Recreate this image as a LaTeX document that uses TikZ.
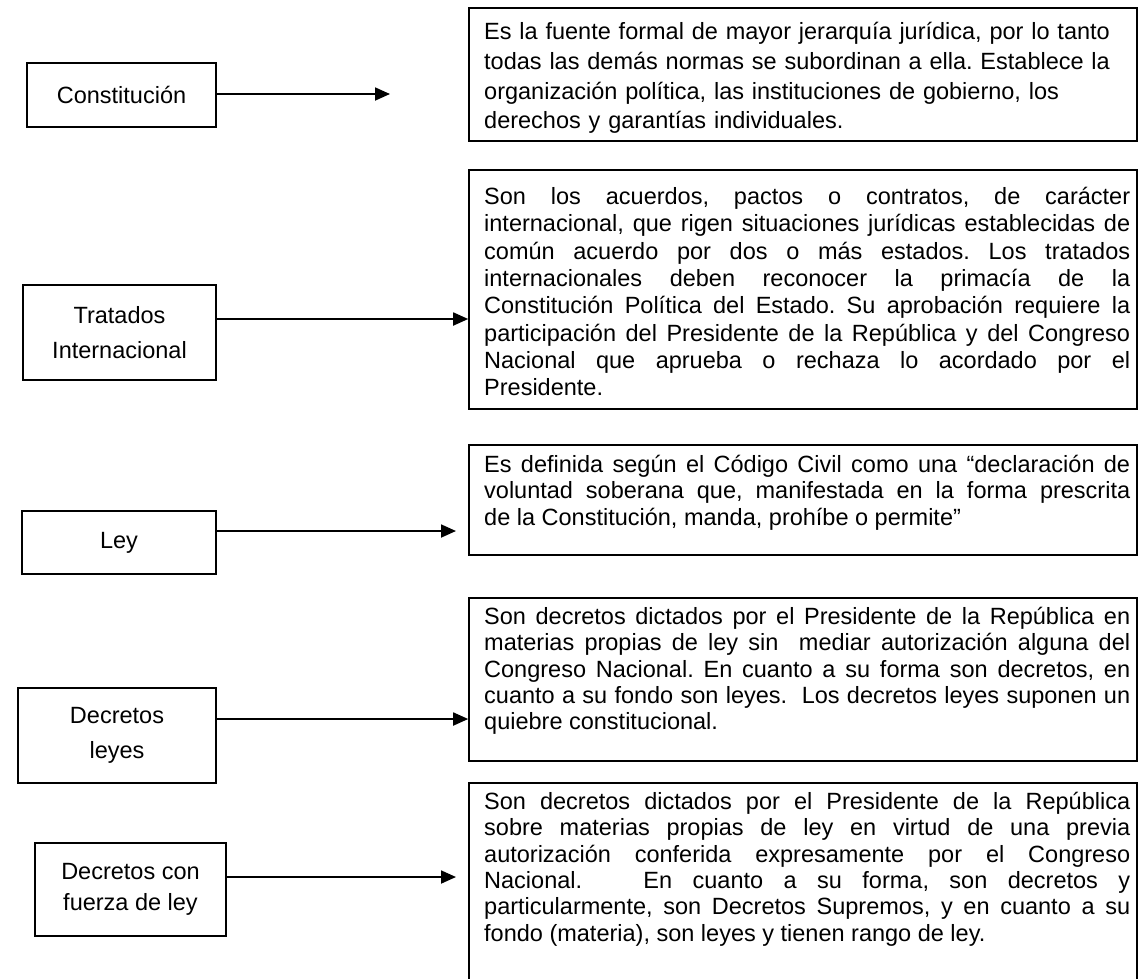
\documentclass[tikz,border=0pt]{standalone}
\usepackage{fontspec}
\setmainfont{Liberation Sans}
\usetikzlibrary{arrows.meta}
\frenchspacing
\begin{document}
\begin{tikzpicture}[x=1pt,y=-1pt,
  lbox/.style={draw, line width=1.6pt, inner sep=0pt, align=center,
    font=\fontsize{23.5}{35}\selectfont},
  rbox/.style={draw, line width=1.6pt, inner sep=0pt},
  rtext/.style={anchor=north west, inner sep=0pt, text width=646pt,
    font=\fontsize{23.5}{26.3}\selectfont},
  arr/.style={line width=1.8pt, -{Triangle[length=15pt,width=13pt]}}
]
\clip (0,0) rectangle (1139,978);
\fill[white] (0,0) rectangle (1139,978);

% right boxes
\node[rbox, minimum width=668pt, minimum height=133pt] (b1) at (803,74.5) {};
\node[rbox, minimum width=668pt, minimum height=239pt] (b2) at (803,289.5) {};
\node[rbox, minimum width=668pt, minimum height=110pt] (b3) at (803,500) {};
\node[rbox, minimum width=668pt, minimum height=163pt] (b4) at (803,679.5) {};
\node[rbox, minimum width=668pt, minimum height=240pt] (b5) at (803,903) {};

\node[rtext, align=left, font=\fontsize{23.5}{29.8}\selectfont] (t1) at (484,22) {Es la fuente formal de mayor jerarquía jurídica, por lo tanto\\
todas las demás normas se subordinan a ella. Establece la\\
organización política, las instituciones de gobierno, los\\
derechos y garantías individuales.};

\node[rtext, align=justify, font=\fontsize{23.5}{27.3}\selectfont] (t2) at (484,187) {Son los acuerdos, pactos o contratos, de carácter\linebreak
internacional, que rigen situaciones jurídicas establecidas de\linebreak
común acuerdo por dos o más estados. Los tratados\linebreak
internacionales deben reconocer la primacía de la\linebreak
Constitución Política del Estado. Su aprobación requiere la\linebreak
participación del Presidente de la República y del Congreso\linebreak
Nacional que aprueba o rechaza lo acordado por el\linebreak
Presidente.};

\node[rtext, align=justify] (t3) at (484,455) {Es definida según el Código Civil como una “declaración de\linebreak
voluntad soberana que, manifestada en la forma prescrita\linebreak
de la Constitución, manda, prohíbe o permite”};

\node[rtext, align=justify] (t4) at (484,607) {Son decretos dictados por el Presidente de la República en\linebreak
materias propias de ley sin\ \ mediar autorización alguna del\linebreak
Congreso Nacional. En cuanto a su forma son decretos, en\linebreak
cuanto a su fondo son leyes.\ \ Los decretos leyes suponen un\linebreak
quiebre constitucional.};

\node[rtext, align=justify] (t5) at (484,792) {Son decretos dictados por el Presidente de la República\linebreak
sobre materias propias de ley en virtud de una previa\linebreak
autorización conferida expresamente por el Congreso\linebreak
Nacional.\ \ \ En cuanto a su forma, son decretos y\linebreak
particularmente, son Decretos Supremos, y en cuanto a su\linebreak
fondo (materia), son leyes y tienen rango de ley.};

% left boxes
\node[lbox, minimum width=189pt, minimum height=64pt] (c) at (121.5,95) {Constitución};
\node[lbox, minimum width=193pt, minimum height=95pt] (tr) at (119.5,332.5) {Tratados\\Internacional};
\node[lbox, minimum width=194pt, minimum height=63pt] (ley) at (119,542.5) {Ley};
\node[lbox, minimum width=198pt, minimum height=95pt] (dl) at (117,735.5) {Decretos\\leyes};
\node[lbox, minimum width=191pt, minimum height=93pt, font=\fontsize{23.5}{31}\selectfont] (df) at (130.5,889.5) {Decretos con\\fuerza de ley};

\coordinate (cend) at (390,94);
\coordinate (lend) at (456,531);
\coordinate (dfend) at (456,877);

\draw[arr] (c.east |- cend) -- (cend);
\draw[arr] (tr.east |- 0,319) -- (b2.west |- 0,319);
\draw[arr] (ley.east |- lend) -- (lend);
\draw[arr] (dl.east |- 0,719) -- (b4.west |- 0,719);
\draw[arr] (df.east |- dfend) -- (dfend);
\end{tikzpicture}
\end{document}
